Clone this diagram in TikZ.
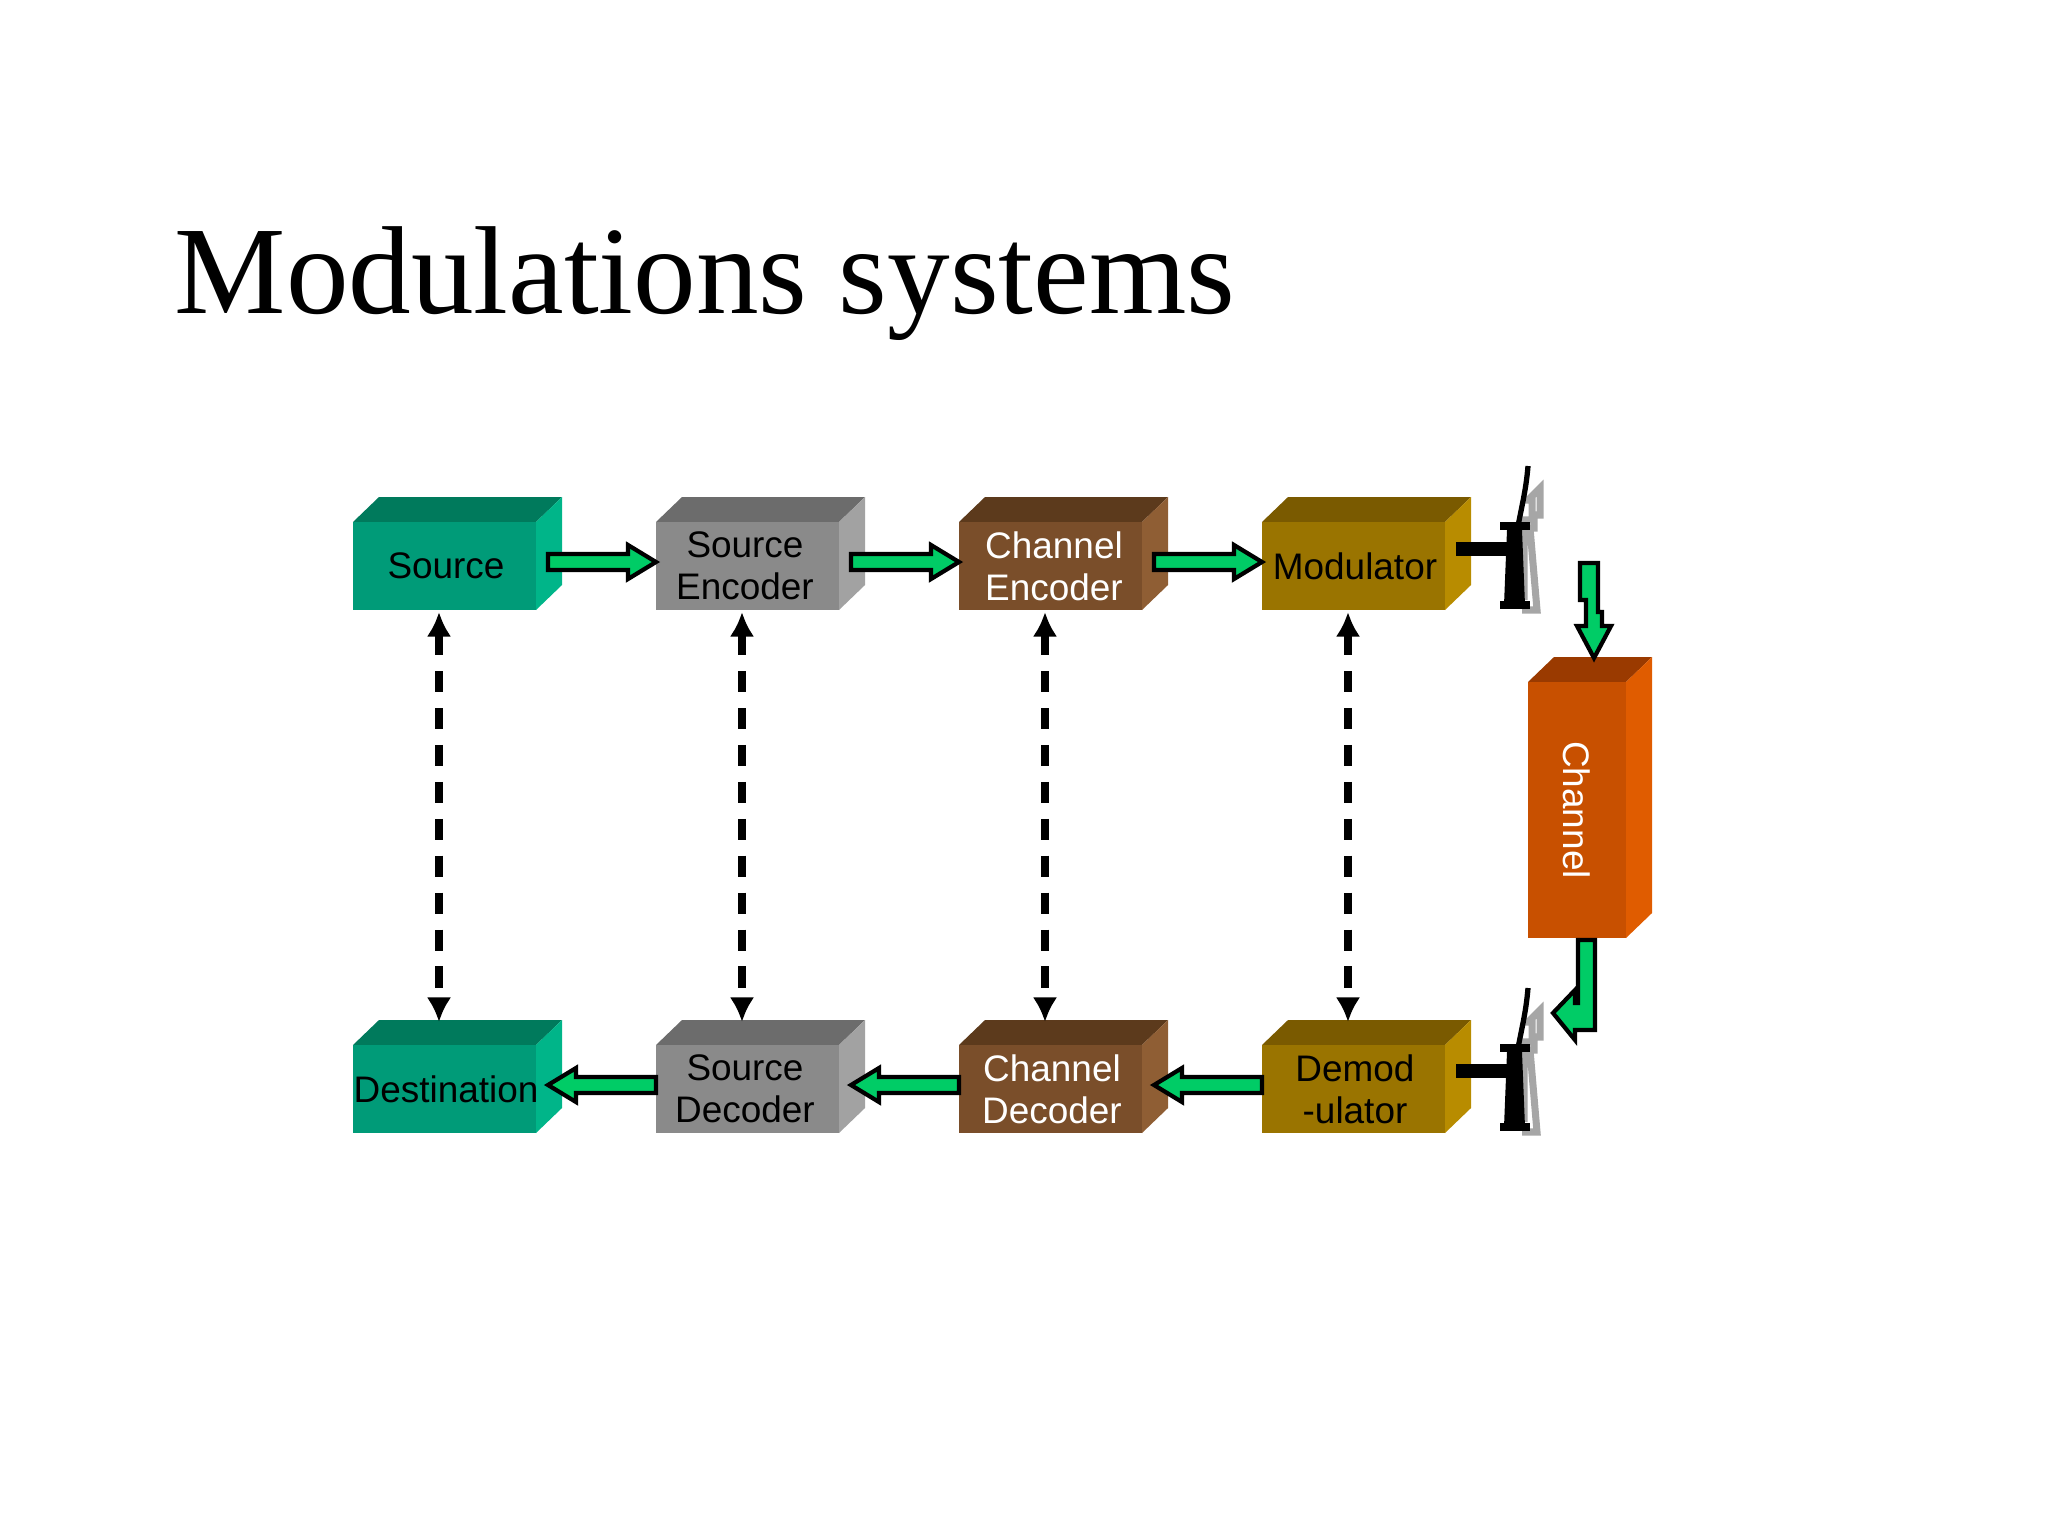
\documentclass[tikz,border=0pt]{standalone}
\usepackage{fontspec}
\setmainfont{Liberation Serif}
\newfontfamily\arial{Liberation Sans}
\usetikzlibrary{arrows.meta}
\definecolor{gA}{HTML}{009B78}\definecolor{gAt}{HTML}{007A5C}\definecolor{gAs}{HTML}{00B589}
\definecolor{gB}{HTML}{8A8A8A}\definecolor{gBt}{HTML}{6C6C6C}\definecolor{gBs}{HTML}{A2A2A2}
\definecolor{bA}{HTML}{7A4E2A}\definecolor{bAt}{HTML}{5C3A1C}\definecolor{bAs}{HTML}{8F5E34}
\definecolor{mA}{HTML}{9A7400}\definecolor{mAt}{HTML}{7A5A00}\definecolor{mAs}{HTML}{B88C00}
\definecolor{oA}{HTML}{C85000}\definecolor{oAt}{HTML}{9A3A00}\definecolor{oAs}{HTML}{E05C00}
\definecolor{arr}{HTML}{00CC66}
\tikzset{
  lbl/.style={font=\arial\fontsize{10.5}{12}\selectfont, align=center, inner sep=0},
  garrow/.style={fill=arr, draw=black, line width=1.2pt, line join=miter},
  dasharrow/.style={line width=2pt, dash pattern=on 6pt off 4.5pt, {Latex[length=7pt,width=7pt]}-{Latex[length=7pt,width=7pt]}}
}
\newcommand{\mybox}[5]{%
  \fill[#5t] (#1,#2) -- ++(26,-25) -- ++(#3,0) -- ++(-26,25) -- cycle;
  \fill[#5s] (#1+#3,#2) -- ++(26,-25) -- ++(0,#4) -- ++(-26,25) -- cycle;
  \fill[#5] (#1,#2) rectangle ++(#3,#4);
}
\begin{document}
\begin{tikzpicture}[x=0.01cm,y=-0.01cm]
\useasboundingbox (0,0) rectangle (2048,1536);
\node[anchor=west, inner sep=0, font=\fontsize{35.6}{38}\selectfont] (title) at (174,284) {Modulations systems};
\mybox{353}{522}{183}{88}{gA}
\mybox{656}{522}{183}{88}{gB}
\mybox{959}{522}{183}{88}{bA}
\mybox{1262}{522}{183}{88}{mA}
\mybox{353}{1045}{183}{88}{gA}
\mybox{656}{1045}{183}{88}{gB}
\mybox{959}{1045}{183}{88}{bA}
\mybox{1262}{1045}{183}{88}{mA}
\mybox{1528}{682}{98}{256}{oA}
\node[lbl] (src) at (446,566) {Source};
\node[lbl] (senc) at (745,566) {Source\\Encoder};
\node[lbl,text=white] (cenc) at (1054,566) {Channel\\Encoder};
\node[lbl] (mod) at (1355,566) {Modulator};
\node[lbl] (dst) at (446,1089) {Destination};
\node[lbl] (sdec) at (745,1089) {Source\\Decoder};
\node[lbl,text=white] (cdec) at (1052,1089) {Channel\\Decoder};
\node[lbl] (dem) at (1355,1089) {Demod\\-ulator};
\node[lbl,text=white,rotate=-90] (chan) at (1577,810) {Channel};
\foreach \x in {439,742,1045,1348}{
  \draw[dasharrow] (\x,612) -- (\x,1022);
}
\foreach \x in {548,851,1154}{
  \draw[garrow] (\x,554) -- ++(80,0) -- ++(0,-9) -- ++(28,17) -- ++(-28,17) -- ++(0,-9) -- ++(-80,0) -- cycle;
}
\foreach \x in {548,851,1154}{
  \draw[garrow] (\x+108,1077) -- ++(-80,0) -- ++(0,-9) -- ++(-28,17) -- ++(28,17) -- ++(0,-9) -- ++(80,0) -- cycle;
}
\draw[garrow] (1580,563) -- (1598,563) -- (1598,612) -- (1602,612) -- (1602,626) -- (1611,626) -- (1594,658) -- (1577,626) -- (1586,626) -- (1586,600) -- (1580,600) -- cycle;
\draw[garrow] (1578,940) -- (1595,940) -- (1595,1030) -- (1575,1030) -- (1575,1040) -- (1553,1013) -- (1575,990) -- (1575,1003) -- (1578,1003) -- cycle;
\foreach \yy in {0,522}{
  \begin{scope}[yshift=-\yy*0.01cm]
    \draw[line width=4pt] (1456,549) -- (1520,549);
    \draw[gray!70, line width=2pt] (1524,600) -- (1524,520) -- (1532,520) -- (1532,500) -- (1528,500) -- (1540,488) -- (1540,515) -- (1534,515) -- (1534,528) -- (1530,528) -- (1537,610) -- (1522,610);
    \fill (1507,530) -- (1522,530) -- (1525,605) -- (1504,605) -- cycle;
    \draw[line width=2pt] (1500,526) -- (1530,526) (1500,605) -- (1530,605);
    \draw[line width=1.5pt] (1518,526) .. controls (1522,505) and (1526,490) .. (1528,466);
  \end{scope}
}
\end{tikzpicture}
\end{document}
